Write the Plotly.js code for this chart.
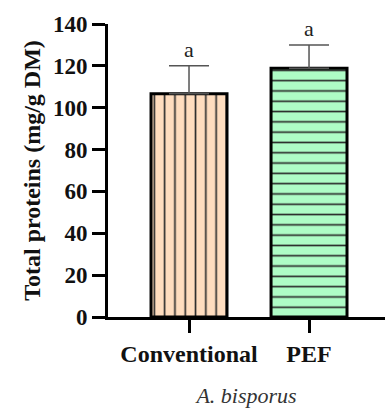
<!DOCTYPE html>
<html><head><meta charset="utf-8">
<script src="https://cdn.plot.ly/plotly-3.0.1.min.js"></script>
<style>body{margin:0;background:#fff}#c{width:385px;height:412px}</style>
</head><body><div id="c"></div>
<script>
const categories = ["Conventional", "PEF"];
const means = [106.7, 118.8];
const errors = [13.3, 11.2];
const letters = ["a", "a"];
const fills = ["#FFDDBF", "#AEFCC6"];
const shapes = ["|", "-"];
const yTicks = [0, 20, 40, 60, 80, 100, 120, 140];

const serif = "Liberation Serif";
const traces = categories.map((c, i) => ({
  type: "bar", x: [c], y: [means[i]], width: 0.633,
  marker: {color: fills[i], line: {color: "#000", width: 3},
    pattern: {shape: shapes[i], size: 10.3, solidity: 0.16, fgcolor: "#2a2a2a", bgcolor: fills[i], fgopacity: 1}},
  error_y: {type: "data", symmetric: false, array: [errors[i]], arrayminus: [0],
    color: "#555", thickness: 1.5, width: 20},
  showlegend: false, hoverinfo: "skip"
}));

const layout = {
  width: 385, height: 412,
  font: {family: serif, color: "#111"},
  margin: {l: 108, r: 0, t: 24, b: 95},
  paper_bgcolor: "#fff", plot_bgcolor: "#fff",
  bargap: 0,
  xaxis: {type: "category", range: [-0.675, 1.633], showline: true, linecolor: "#000", linewidth: 3,
    ticks: "outside", ticklen: 13, tickwidth: 3, tickcolor: "#000",
    tickfont: {family: serif, size: 24, color: "#111", weight: 700},
    showgrid: false, zeroline: false,
    title: {text: "<i>A. bisporus</i>", font: {family: serif, size: 22, color: "#333"}, standoff: 22}},
  yaxis: {range: [0, 140], tickvals: yTicks,
    showline: true, linecolor: "#000", linewidth: 3,
    ticks: "outside", ticklen: 13, tickwidth: 3, tickcolor: "#000",
    tickfont: {family: serif, size: 23, color: "#111", weight: 700},
    showgrid: false, zeroline: false,
    title: {text: "<b>Total proteins (mg/g DM)</b>", font: {family: serif, size: 24, color: "#111"}, standoff: 6}},
  annotations: categories.map((c, i) => ({
    x: c, y: means[i] + errors[i], text: letters[i], showarrow: false,
    yanchor: "bottom", yshift: 2, font: {family: serif, size: 22, color: "#222"}
  }))
};
Plotly.newPlot("c", traces, layout, {displayModeBar: false, staticPlot: true});
</script></body></html>
